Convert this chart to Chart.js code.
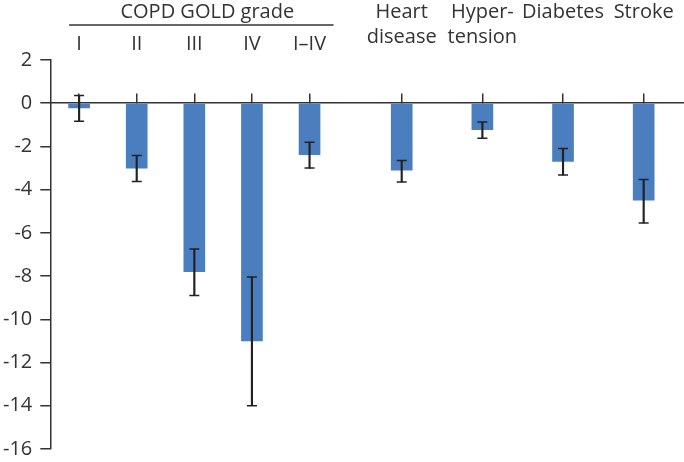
<!DOCTYPE html>
<html>
<head>
<meta charset="utf-8">
<script src="https://cdn.jsdelivr.net/npm/chart.js@4"></script>
<style>
  html, body { margin: 0; padding: 0; background: #fff; }
  #wrap { width: 684px; height: 462px; position: relative; }
</style>
</head>
<body>
<div id="wrap"><canvas id="c"></canvas></div>
<script>
// ---------- data ----------
const groupTitle = 'COPD GOLD grade';
const copdGrades = ['I', 'II', 'III', 'IV', 'I–IV'];
const diseases = [['Heart', 'disease'], ['Hyper-', 'tension'], 'Diabetes', 'Stroke'];
const means  = [-0.22, -3.00, -7.80, -11.00, -2.38, -3.10, -1.22, -2.69, -4.49];
const ciLow  = [-0.83, -3.62, -8.90, -14.00, -3.00, -3.64, -1.62, -3.32, -5.54];
const ciHigh = [ 0.36, -2.42, -6.75,  -8.04, -1.81, -2.65, -0.87, -2.10, -3.53];
const yTicks = [2, 0, -2, -4, -6, -8, -10, -12, -14, -16];

// ---------- layout ----------
const SLOT_COUNT = 55;
const slotOf = [2, 7, 12, 17, 22, 30, 37, 44, 51];
const FONT = "'Open Sans', Roboto, 'DejaVu Sans', sans-serif";
const TEXT = '#333333';
const BAR = '#4a7ebf';
const ERR = '#222222';

const categories = copdGrades.concat(diseases.map(d => Array.isArray(d) ? d : [d, '']));
const labels = Array.from({length: SLOT_COUNT}, () => '');
slotOf.forEach((s, i) => { labels[s] = categories[i]; });
function spread(vals) {
  const a = Array(SLOT_COUNT).fill(null);
  slotOf.forEach((s, i) => { a[s] = vals[i]; });
  return a;
}
const firstDiseaseSlot = slotOf[copdGrades.length];
const noSidePadding = (s) => { s.paddingLeft = 0; s.paddingRight = 0; };

const groupTitlePlugin = {
  id: 'groupTitle',
  afterDraw(chart) {
    const x = chart.scales.x, ctx = chart.ctx;
    const left = x.getPixelForValue(slotOf[0]) - 10;
    const right = x.getPixelForValue(slotOf[copdGrades.length - 1]) + 24;
    ctx.save();
    ctx.strokeStyle = TEXT; ctx.lineWidth = 1.5;
    ctx.beginPath(); ctx.moveTo(left, 25); ctx.lineTo(right, 25); ctx.stroke();
    ctx.font = '20px ' + FONT; ctx.fillStyle = TEXT;
    ctx.textAlign = 'center'; ctx.textBaseline = 'middle';
    ctx.fillText(groupTitle, (left + right) / 2 + 6, 12);
    ctx.restore();
  }
};

new Chart(document.getElementById('c'), {
  type: 'bar',
  data: {
    labels: labels,
    datasets: [
      { type: 'bar', data: spread(means), backgroundColor: BAR, barThickness: 21, grouped: false, order: 3, xAxisID: 'x', yAxisID: 'y' },
      { type: 'bar', data: spread(ciLow.map((l, i) => [l, ciHigh[i]])), backgroundColor: ERR, barThickness: 1.5, grouped: false, order: 2, xAxisID: 'x', yAxisID: 'y' },
      { type: 'line', data: spread(ciLow), showLine: false, pointStyle: 'line', pointRadius: 5, pointBorderWidth: 1.5, pointBorderColor: ERR, order: 1, xAxisID: 'x', yAxisID: 'y' },
      { type: 'line', data: spread(ciHigh), showLine: false, pointStyle: 'line', pointRadius: 5, pointBorderWidth: 1.5, pointBorderColor: ERR, order: 1, xAxisID: 'x', yAxisID: 'y' }
    ]
  },
  options: {
    responsive: true,
    maintainAspectRatio: false,
    animation: false,
    devicePixelRatio: 1,
    layout: { autoPadding: false, padding: { top: -10, left: -5, right: 0, bottom: 13 } },
    plugins: { legend: { display: false }, tooltip: { enabled: false } },
    scales: {
      x: {
        type: 'category',
        position: 'top',
        offset: true,
        afterFit: noSidePadding,
        grid: { display: false, drawTicks: false },
        border: { display: false },
        ticks: {
          autoSkip: false, maxRotation: 0, minRotation: 0, padding: 10, color: TEXT,
          font: (ctx) => ({ family: FONT, size: 20, lineHeight: (ctx.index < firstDiseaseSlot) ? '11px' : '25px' })
        }
      },
      xZero: {
        type: 'category',
        position: { y: 0 },
        offset: true,
        z: 1,
        afterFit: noSidePadding,
        grid: {
          display: true, drawOnChartArea: false, drawTicks: true, tickLength: -10, offset: false,
          lineWidth: 1.5,
          tickColor: (ctx) => labels[ctx.index] ? TEXT : 'rgba(0,0,0,0)'
        },
        border: { display: true, color: TEXT, width: 1.5 },
        ticks: { display: false }
      },
      y: {
        type: 'linear',
        min: -16, max: 2,
        afterBuildTicks: (s) => { s.ticks = yTicks.map(v => ({ value: v })); },
        afterFit: (s) => { s.paddingTop = 0; s.paddingBottom = 0; },
        grid: { display: true, drawOnChartArea: false, drawTicks: true, tickLength: 10, tickColor: TEXT, lineWidth: 1.5 },
        border: { display: true, color: TEXT, width: 1.5 },
        ticks: { color: TEXT, padding: 8, font: { family: FONT, size: 20 } }
      }
    }
  },
  plugins: [groupTitlePlugin]
});
</script>
</body>
</html>
